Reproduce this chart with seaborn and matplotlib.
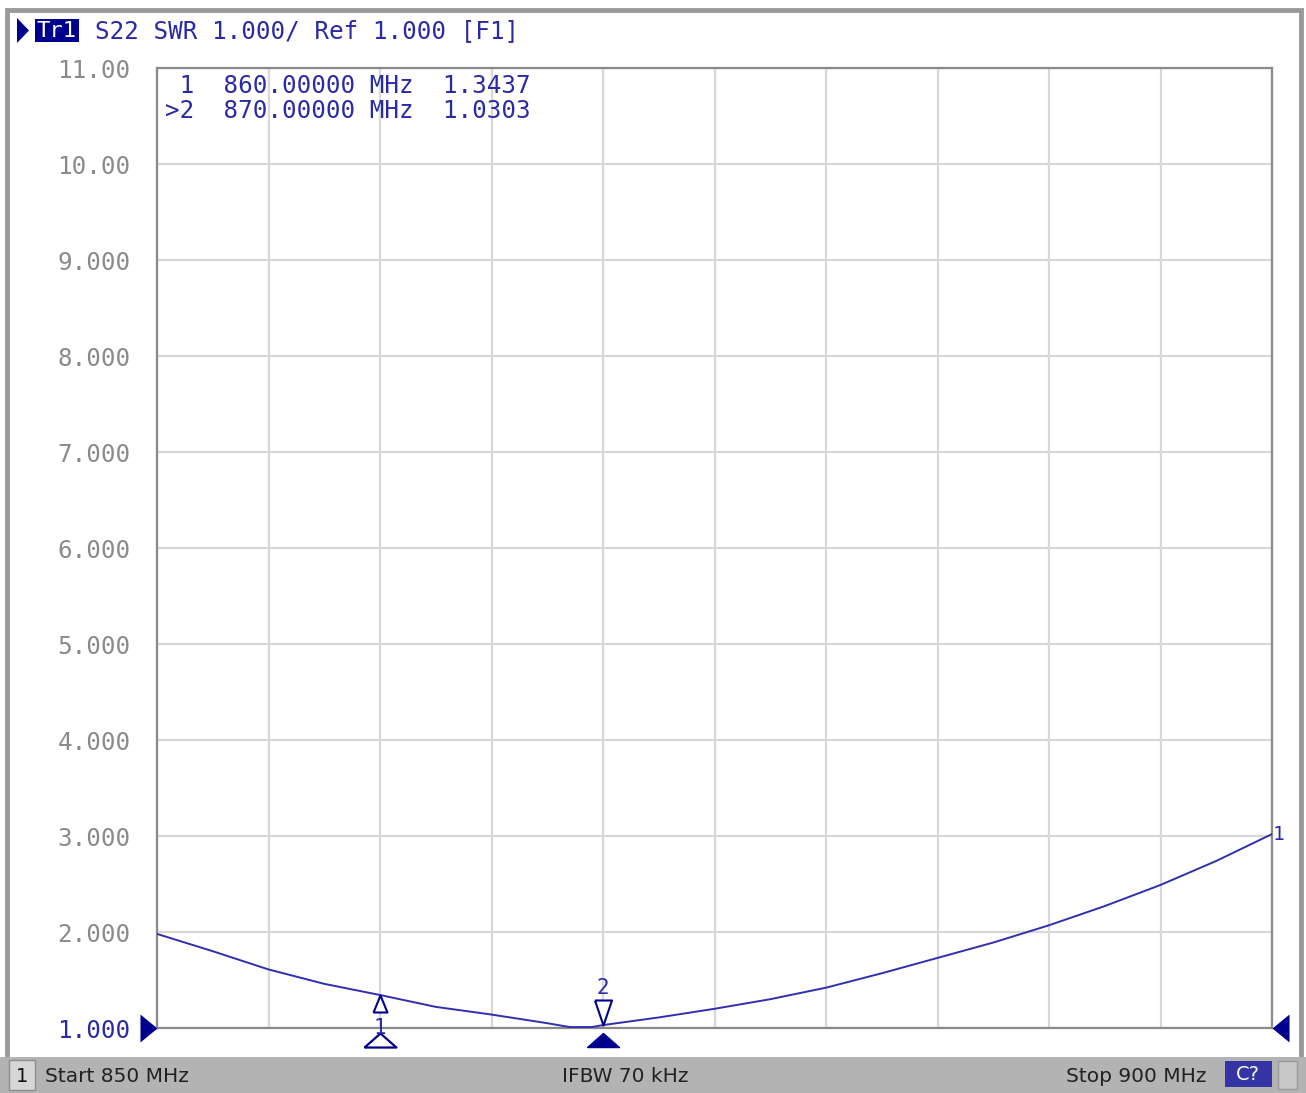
import matplotlib
matplotlib.use('Agg')
import matplotlib.pyplot as plt
import matplotlib.transforms as mtransforms
from matplotlib.patches import Rectangle, Polygon
import seaborn as sns
import pandas as pd

# S22 SWR trace
freq_mhz = [850, 852.5, 855, 857.5, 860, 862.5, 865, 867.5, 868.5, 869.5, 870,
            872.5, 875, 877.5, 880, 882.5, 885, 887.5, 890, 892.5, 895, 897.5, 900]
swr = [1.98, 1.80, 1.61, 1.46, 1.3437, 1.22, 1.14, 1.05, 1.01, 1.01, 1.0303,
       1.11, 1.20, 1.30, 1.42, 1.57, 1.73, 1.89, 2.07, 2.27, 2.49, 2.74, 3.02]

marker_ids = ['1', '2']
marker_freq = [860, 870]
marker_swr = [1.3437, 1.0303]
marker_rows = [' 1  860.00000 MHz  1.3437', '>2  870.00000 MHz  1.0303']

y_ticks = [1, 2, 3, 4, 5, 6, 7, 8, 9, 10, 11]
y_tick_labels = ['1.000', '2.000', '3.000', '4.000', '5.000', '6.000',
                 '7.000', '8.000', '9.000', '10.00', '11.00']
x_grid = [850, 855, 860, 865, 870, 875, 880, 885, 890, 895, 900]

header = 'S22 SWR 1.000/ Ref 1.000 [F1]'
status_start = 'Start 850 MHz'
status_mid = 'IFBW 70 kHz'
status_stop = 'Stop 900 MHz'

blue_txt = '#2a2aa6'
navy = '#00008e'
trace_col = '#2f2fb0'
mono = 'DejaVu Sans Mono'

sns.set_theme(style='white')
plt.rcParams['font.family'] = ['DejaVu Sans']

W, H = 1306, 1093
fig = plt.figure(figsize=(W / 100, H / 100), dpi=100)

# background layer in pixel coordinates (window frame, header, status bar)
bg = fig.add_axes([0, 0, 1, 1], zorder=0)
bg.set_xlim(0, W)
bg.set_ylim(H, 0)
bg.axis('off')
bg.add_patch(Rectangle((7, 10), 1294, 1049, facecolor='white', edgecolor='#9a9a9a', lw=3.5))
bg.add_patch(Rectangle((0, 1057), W, 36, facecolor='#b3b3b3', edgecolor='none'))
bg.add_patch(Rectangle((9, 1060), 26, 30, facecolor='#d6d6d6', edgecolor='#8c8c8c', lw=1))
bg.text(22, 1076, '1', ha='center', va='center', fontsize=14, color='#111111')
bg.text(45, 1076, status_start, ha='left', va='center', fontsize=14.5, color='#222222')
bg.text(625, 1076, status_mid, ha='center', va='center', fontsize=14.5, color='#222222')
bg.text(1207, 1076, status_stop, ha='right', va='center', fontsize=14.5, color='#222222')
bg.add_patch(Rectangle((1225, 1061), 47, 26, facecolor='#3434a4', edgecolor='none'))
bg.text(1248, 1075, 'C?', ha='center', va='center', fontsize=14, color='white')
bg.add_patch(Rectangle((1278, 1061), 19, 28, facecolor='#c8c8c8', edgecolor='#9a9a9a', lw=1))
bg.add_patch(Polygon([[17, 18], [17, 43], [29, 30.5]], closed=True, facecolor=navy, edgecolor='none'))
bg.add_patch(Rectangle((35, 19), 44, 23, facecolor=navy, edgecolor='none'))
bg.text(57, 31, 'Tr1', ha='center', va='center', fontsize=16, family=mono, color='white')
bg.text(95, 31, header, ha='left', va='center', fontsize=17.5, family=mono, color=blue_txt)

# main trace area
ax = fig.add_axes([157 / W, 1 - 1028 / H, (1272 - 157) / W, (1028 - 68) / H], zorder=1)
df = pd.DataFrame({'freq': freq_mhz, 'swr': swr})
sns.lineplot(data=df, x='freq', y='swr', ax=ax, color=trace_col, lw=1.4, zorder=5)
ax.set_xlim(850, 900)
ax.set_ylim(1, 11)
ax.set_xticks(x_grid)
ax.set_xticklabels([])
ax.set_yticks(y_ticks)
ax.set_yticklabels(y_tick_labels, family=mono, fontsize=17.5, color='#8a8a8a')
ax.get_yticklabels()[0].set_color(blue_txt)
ax.tick_params(axis='both', length=0)
ax.tick_params(axis='y', pad=19)
ax.grid(True, color='#d8d8d8', lw=1.6)
ax.set_xlabel('')
ax.set_ylabel('')
ax.set_facecolor('white')
for sp in ax.spines.values():
    sp.set_color('#8a8a8a')
    sp.set_linewidth(1.6)

# marker readout table
for i, row in enumerate(marker_rows):
    ax.text(165, 86 + 25 * i, row, transform=bg.transData, family=mono,
            fontsize=17.5, color=blue_txt, va='center', ha='left')

# markers on the trace (tip of the triangle sits on the trace)
tip_up = [(-0.41, -1), (0.41, -1), (0, 0), (-0.41, -1)]
tip_down = [(-0.34, 1), (0.34, 1), (0, 0), (-0.34, 1)]
ax.plot(marker_freq[0], marker_swr[0], marker=tip_up, ms=24.5, mfc='white', mec=navy,
        mew=1.5, zorder=6, clip_on=False)
ax.plot(marker_freq[1], marker_swr[1], marker=tip_down, ms=36, mfc='white', mec=navy,
        mew=1.5, zorder=6, clip_on=False)
ax.annotate(marker_ids[0], (marker_freq[0], marker_swr[0]), xytext=(0, -24),
            textcoords='offset points', ha='center', va='center', fontsize=15,
            family=mono, color=blue_txt, zorder=7, annotation_clip=False)
ax.annotate(marker_ids[1], (marker_freq[1], marker_swr[1]), xytext=(0, 27),
            textcoords='offset points', ha='center', va='center', fontsize=15,
            family=mono, color=blue_txt, zorder=7, annotation_clip=False)

# stimulus markers below the axis
flat_tri = [(-1, -0.44), (1, -0.44), (0, 0.44), (-1, -0.44)]
below = mtransforms.blended_transform_factory(ax.transData, ax.transAxes)
below = below + mtransforms.ScaledTranslation(0, -8.5 / 72, fig.dpi_scale_trans)
ax.plot(marker_freq[0], 0, marker=flat_tri, ms=23, mfc='white', mec=navy, mew=1.6,
        transform=below, clip_on=False, zorder=6)
ax.plot(marker_freq[1], 0, marker=flat_tri, ms=23, mfc=navy, mec=navy, mew=1,
        transform=below, clip_on=False, zorder=6)

# reference level arrows and trace end label
ref_t = mtransforms.blended_transform_factory(ax.transAxes, ax.transData)
ax.plot(0, 1, marker=[(-1, -0.82), (-1, 0.82), (0, 0), (-1, -0.82)], ms=24.5,
        color=navy, mew=0, transform=ref_t, clip_on=False, zorder=6)
ax.plot(1, 1, marker=[(1, -0.82), (1, 0.82), (0, 0), (1, -0.82)], ms=24.5,
        color=navy, mew=0, transform=ref_t, clip_on=False, zorder=6)
ax.annotate('1', (freq_mhz[-1], swr[-1]), xytext=(5, 0), textcoords='offset points',
            ha='center', va='center', fontsize=14, family=mono, color=blue_txt,
            annotation_clip=False, zorder=7)

fig.savefig('out.png', dpi=100)
